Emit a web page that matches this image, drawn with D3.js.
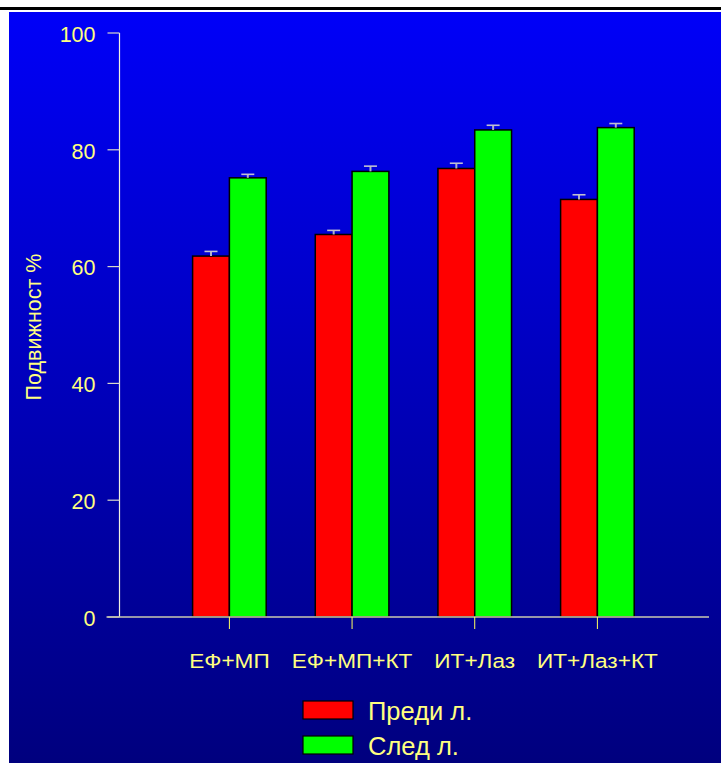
<!DOCTYPE html>
<html>
<head>
<meta charset="utf-8">
<script src="https://cdn.jsdelivr.net/npm/d3@7"></script>
<style>
  html, body { margin: 0; padding: 0; background: #ffffff; }
  svg { display: block; }
  text { font-family: "Liberation Sans", Arial, sans-serif; }
</style>
</head>
<body>
<svg id="chart" width="721" height="763"></svg>
<script>
// Mobility (%) before and after treatment, per therapy group
const categories = ["ЕФ+МП", "ЕФ+МП+КТ", "ИТ+Лаз", "ИТ+Лаз+КТ"];
const seriesNames = ["Преди л.", "След л."];
const beforeValues = [61.8, 65.5, 76.8, 71.5];
const afterValues = [75.2, 76.3, 83.4, 83.8];
const beforeErrors = [0.8, 0.7, 0.9, 0.8];
const afterErrors = [0.6, 0.9, 0.8, 0.7];
const yTicks = [0, 20, 40, 60, 80, 100];

const seriesColors = ["#ff0000", "#00ff00"];
const textColor = "#ffff80";

const svg = d3.select("#chart");

// Panel background with a vertical blue gradient
const defs = svg.append("defs");
const grad = defs.append("linearGradient")
  .attr("id", "bg").attr("x1", 0).attr("y1", 0).attr("x2", 0).attr("y2", 1);
grad.append("stop").attr("offset", "0%").attr("stop-color", "#0000f8");
grad.append("stop").attr("offset", "100%").attr("stop-color", "#00007e");

svg.append("rect").attr("x", 0).attr("y", 7).attr("width", 721).attr("height", 3).attr("fill", "#000");
svg.append("rect").attr("x", 9).attr("y", 12).attr("width", 712).attr("height", 751).attr("fill", "url(#bg)");

const y = d3.scaleLinear().domain([0, 100]).range([617, 33]);
const x = d3.scalePoint().domain(categories).range([229.4, 597.4]);
const barW = 36.8;

const rows = categories.map((c, i) => ({
  cat: c,
  vals: [
    { s: 0, v: beforeValues[i], e: beforeErrors[i] },
    { s: 1, v: afterValues[i], e: afterErrors[i] }
  ]
}));

// Y axis
const yAxisX = 119.5;
svg.append("line")
  .attr("x1", yAxisX).attr("x2", yAxisX)
  .attr("y1", y(100)).attr("y2", y(0))
  .attr("stroke", "#f0f0e0").attr("stroke-width", 1.2);
const yt = svg.append("g").selectAll("g").data(yTicks).join("g");
yt.append("line")
  .attr("x1", yAxisX - 12).attr("x2", yAxisX)
  .attr("y1", d => y(d)).attr("y2", d => y(d))
  .attr("stroke", "#d8d8c8").attr("stroke-width", 1.2);
yt.append("text")
  .attr("x", 95.5).attr("y", d => y(d) + 1)
  .attr("dy", "0.36em")
  .attr("text-anchor", "end")
  .attr("font-size", 21.5)
  .attr("fill", textColor)
  .text(d => d);

// Y axis title
svg.append("text")
  .attr("transform", "translate(41,327) rotate(-90)")
  .attr("text-anchor", "middle")
  .attr("font-size", 21.5)
  .attr("fill", textColor)
  .text("Подвижност %");

// Bars
const groups = svg.append("g").selectAll("g").data(rows).join("g")
  .attr("transform", d => `translate(${x(d.cat)},0)`);

groups.selectAll("rect").data(d => d.vals).join("rect")
  .attr("x", d => d.s === 0 ? -barW : 0)
  .attr("y", d => y(d.v))
  .attr("width", barW)
  .attr("height", d => y(0) - y(d.v))
  .attr("fill", d => seriesColors[d.s])
  .attr("stroke", "#000")
  .attr("stroke-width", 1.5);

// Error bars (upper half)
const eb = groups.selectAll("g.err").data(d => d.vals).join("g").attr("class", "err")
  .attr("transform", d => `translate(${d.s === 0 ? -barW / 2 : barW / 2},0)`);
eb.append("line")
  .attr("x1", 0).attr("x2", 0)
  .attr("y1", d => y(d.v)).attr("y2", d => y(d.v + d.e))
  .attr("stroke", "#b0b0c8").attr("stroke-width", 2);
eb.append("line")
  .attr("x1", -6.5).attr("x2", 6.5)
  .attr("y1", d => y(d.v + d.e)).attr("y2", d => y(d.v + d.e))
  .attr("stroke", "#c0c0d0").attr("stroke-width", 1.6);

// X axis
svg.append("line")
  .attr("x1", 106.5).attr("x2", 709)
  .attr("y1", y(0)).attr("y2", y(0))
  .attr("stroke", "#c8c8b0").attr("stroke-width", 1.5);
const xt = svg.append("g").selectAll("g").data(categories).join("g");
xt.append("line")
  .attr("x1", d => x(d)).attr("x2", d => x(d))
  .attr("y1", y(0)).attr("y2", y(0) + 12)
  .attr("stroke", "#ffff60").attr("stroke-width", 1);
// category labels are drawn slightly condensed vertically
xt.append("text")
  .attr("transform", d => `translate(${x(d)},667.5) scale(1,0.87)`)
  .attr("text-anchor", "middle")
  .attr("font-size", 22.6)
  .attr("fill", textColor)
  .text(d => d);

// Legend
const legend = svg.append("g").selectAll("g").data(seriesNames).join("g")
  .attr("transform", (d, i) => `translate(303,${701 + i * 35})`);
legend.append("rect")
  .attr("width", 50).attr("height", 18)
  .attr("fill", (d, i) => seriesColors[i])
  .attr("stroke", "#000").attr("stroke-width", 1.2);
legend.append("text")
  .attr("x", 65).attr("y", 19)
  .attr("font-size", 25.5)
  .attr("fill", textColor)
  .text(d => d);
</script>
</body>
</html>
